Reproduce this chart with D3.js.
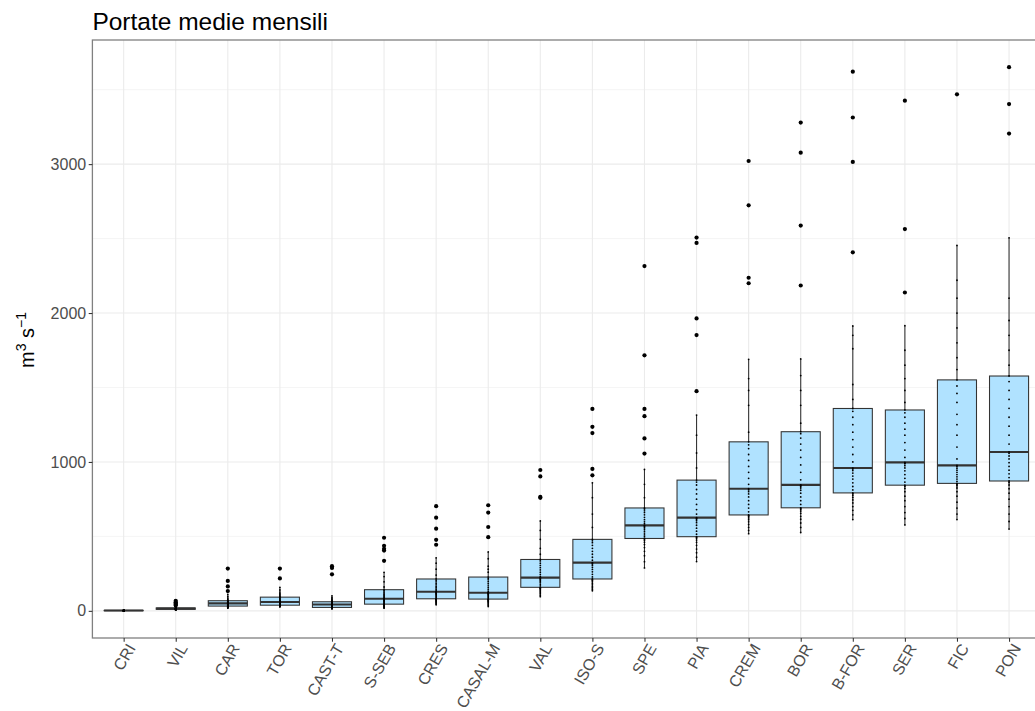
<!DOCTYPE html>
<html>
<head>
<meta charset="utf-8">
<script src="https://cdn.jsdelivr.net/npm/d3@7"></script>
<style>
  body { margin: 0; background: #ffffff; }
  svg { display: block; font-family: "Liberation Sans", Arial, sans-serif; }
</style>
</head>
<body>
<svg id="chart" width="1035" height="711"></svg>
<script>
// Monthly mean discharge (m^3/s) per gauging station
const stations = ["CRI", "VIL", "CAR", "TOR", "CAST-T", "S-SEB", "CRES", "CASAL-M", "VAL",
                  "ISO-S", "SPE", "PIA", "CREM", "BOR", "B-FOR", "SER", "FIC", "PON"];

const flowCRI = [0.2,0.4,0.5,0.6,0.8,0.9,1.0,1.1,1.1,1.2,1.3,1.4,1.5,1.6,1.7,1.8,1.9,1.9,2.0,2.1,2.2,2.3,2.4,2.5,2.6,2.7,2.9,3.0,3.1,3.3,3.5,3.7,3.9,4.2,4.6,5.1,5.5];
const flowVIL = [5,6,7,7.5,8,8.5,9,9.5,10,10.5,11,11.5,12,12.5,13,13.5,14,14.5,15,15.5,16,16.5,17,17.5,18,18.5,19,19.5,21,23,25,28,36,42,50,58,67];
const flowCAR = [18,21,23,25,26,27,28,30,31,32,34,36,38,40,42,44,46,48,50,52,54,56,58,60,62,64,66,68,72,78,86,96,110,133,164,201,284];
const flowTOR = [27,29,30,31,32,33,34,36,37,38,40,42,45,48,51,53,55,57,59,62,65,68,72,76,80,85,89,92,96,101,108,116,126,140,158,218,284];
const flowCASTT = [14,15,16,17,18,19,20,21,22,23,25,28,31,34,36,38,40,42,43,45,47,49,51,53,55,57,59,61,64,68,73,80,88,101,245,288,300];
const flowSSEB = [18,22,26,29,32,35,38,41,43,45,50,55,60,64,68,72,76,79,81,86,92,98,105,112,120,128,136,142,160,195,230,259,336,405,417,437,491];
const flowCRES = [41,48,55,60,65,70,74,77,79,81,88,95,102,108,113,118,122,125,128,135,145,155,165,175,185,195,205,214,240,280,320,356,444,477,552,626,703];
const flowCASALM = [29,38,46,54,60,65,70,74,77,79,85,92,98,104,109,113,117,120,122,130,142,155,168,182,196,208,218,227,260,280,300,350,396,495,563,660,709];
const flowVAL = [95,105,115,125,133,140,147,152,155,158,168,178,188,196,204,210,215,220,223,232,245,260,275,290,305,320,335,345,380,420,480,540,604,759,765,903,946];
const flowISOS = [135,145,155,165,175,185,195,203,209,214,228,245,262,278,292,305,314,320,324,340,360,380,400,420,440,458,470,480,560,650,760,860,910,953,1194,1236,1356];
const flowSPE = [288,330,370,400,425,445,460,472,480,486,498,510,522,535,548,558,566,571,574,585,598,612,628,645,660,672,684,691,760,850,950,1056,1158,1307,1356,1716,2315];
const flowPIA = [331,360,390,415,440,460,475,487,494,498,515,535,555,575,592,605,615,622,626,650,680,715,750,785,815,845,865,878,960,1060,1180,1315,1475,1852,1964,2471,2507];
const flowCREM = [518,540,560,580,598,612,624,634,640,644,665,690,715,740,765,785,800,812,820,850,890,930,970,1010,1050,1090,1115,1135,1200,1380,1480,1560,1689,2200,2237,2723,3021];
const flowBOR = [526,560,590,615,635,655,670,680,688,692,715,740,765,790,810,825,835,842,846,880,930,980,1030,1080,1120,1160,1190,1203,1260,1380,1480,1580,1692,2185,2587,3077,3279];
const flowBFOR = [613,645,675,700,725,745,762,776,786,792,812,835,860,885,905,925,942,952,959,1000,1050,1100,1150,1200,1250,1300,1340,1359,1420,1520,1760,1850,1913,2408,3015,3313,3621];
const flowSER = [577,620,660,700,740,770,800,822,836,844,865,890,915,940,960,975,987,993,997,1030,1080,1130,1180,1220,1260,1300,1330,1349,1400,1480,1560,1650,1750,1915,2138,2564,3426];
const flowFIC = [613,650,690,730,770,800,825,840,850,856,870,885,900,915,930,945,958,970,977,1020,1100,1180,1250,1320,1400,1460,1510,1551,1620,1700,1800,1900,2000,2100,2220,2454,3469];
const flowPON = [549,600,650,700,750,790,820,845,862,872,895,920,945,970,995,1020,1040,1058,1067,1120,1180,1240,1300,1360,1420,1480,1540,1577,1650,1750,1850,1950,2100,2505,3205,3403,3651];

const yTicks = [0, 1000, 2000, 3000];
const yMinorTicks = [500, 1500, 2500, 3500];
const chartTitle = "Portate medie mensili";

const series = [flowCRI, flowVIL, flowCAR, flowTOR, flowCASTT, flowSSEB, flowCRES, flowCASALM, flowVAL,
                flowISOS, flowSPE, flowPIA, flowCREM, flowBOR, flowBFOR, flowSER, flowFIC, flowPON];

// Tukey box statistics for each station
const boxes = stations.map((name, i) => {
  const v = series[i].slice().sort(d3.ascending);
  const q1 = d3.quantile(v, 0.25), med = d3.quantile(v, 0.5), q3 = d3.quantile(v, 0.75);
  const iqr = q3 - q1;
  const loFence = q1 - 1.5 * iqr, hiFence = q3 + 1.5 * iqr;
  const inside = v.filter(d => d >= loFence && d <= hiFence);
  return {
    name, values: v, q1, med, q3,
    lo: d3.min(inside), hi: d3.max(inside),
    outliers: v.filter(d => d < loFence || d > hiFence)
  };
});

// Panel geometry
const panel = { left: 92.4, right: 1040.3, top: 40, bottom: 638 };

const x = d3.scalePoint()
  .domain(stations)
  .range([panel.left, panel.right])
  .padding(0.6);
const step = x.step();
const boxW = step * 0.75;

const allValues = series.flat();
const [vMin, vMax] = d3.extent(allValues);
const pad = (vMax - vMin) * 0.05;
const y = d3.scaleLinear()
  .domain([vMin - pad, vMax + pad])
  .range([panel.bottom, panel.top]);

const svg = d3.select("#chart");

// Title
svg.append("text")
  .attr("x", panel.left)
  .attr("y", 30)
  .attr("font-size", 24.5)
  .attr("fill", "#000")
  .text(chartTitle);

// Y axis title: m^3 s^-1
const yTitle = svg.append("text")
  .attr("transform", "translate(34,340) rotate(-90)")
  .attr("text-anchor", "middle")
  .attr("font-size", 20)
  .attr("fill", "#000");
yTitle.append("tspan").text("m");
yTitle.append("tspan").attr("dy", -8).attr("font-size", 14).text("3");
yTitle.append("tspan").attr("dy", 8).text(" s");
yTitle.append("tspan").attr("dy", -8).attr("font-size", 14).text("\u22121");

const plot = svg.append("g");

// Grid
plot.append("g").selectAll("line").data(yMinorTicks).join("line")
  .attr("x1", panel.left).attr("x2", panel.right)
  .attr("y1", d => y(d)).attr("y2", d => y(d))
  .attr("stroke", "#F2F2F2").attr("stroke-width", 0.8);
plot.append("g").selectAll("line").data(yTicks).join("line")
  .attr("x1", panel.left).attr("x2", panel.right)
  .attr("y1", d => y(d)).attr("y2", d => y(d))
  .attr("stroke", "#EBEBEB").attr("stroke-width", 1.1);
plot.append("g").selectAll("line").data(stations).join("line")
  .attr("x1", d => x(d)).attr("x2", d => x(d))
  .attr("y1", panel.top).attr("y2", panel.bottom)
  .attr("stroke", "#EBEBEB").attr("stroke-width", 1.1);

// Boxplots
const bx = plot.append("g").selectAll("g").data(boxes).join("g")
  .attr("transform", d => `translate(${x(d.name)},0)`);

bx.append("line")
  .attr("y1", d => y(d.hi)).attr("y2", d => y(d.q3))
  .attr("stroke", "#333333").attr("stroke-width", 1.07);
bx.append("line")
  .attr("y1", d => y(d.q1)).attr("y2", d => y(d.lo))
  .attr("stroke", "#333333").attr("stroke-width", 1.07);
bx.append("rect")
  .attr("x", -boxW / 2).attr("width", boxW)
  .attr("y", d => y(d.q3))
  .attr("height", d => Math.max(0.01, y(d.q1) - y(d.q3)))
  .attr("fill", "#B0E2FF")
  .attr("stroke", "#333333").attr("stroke-width", 1.07);
bx.append("line")
  .attr("x1", -boxW / 2).attr("x2", boxW / 2)
  .attr("y1", d => y(d.med)).attr("y2", d => y(d.med))
  .attr("stroke", "#333333").attr("stroke-width", 2.1);
bx.selectAll("circle.out").data(d => d.outliers).join("circle")
  .attr("class", "out")
  .attr("cy", d => y(d)).attr("r", 2.1)
  .attr("fill", "#000");

// Individual monthly values
bx.selectAll("circle.pt").data(d => d.values).join("circle")
  .attr("class", "pt")
  .attr("cy", d => y(d)).attr("r", 0.9)
  .attr("fill", "#000");

// Panel border
svg.append("rect")
  .attr("x", panel.left).attr("y", panel.top)
  .attr("width", panel.right - panel.left).attr("height", panel.bottom - panel.top)
  .attr("fill", "none").attr("stroke", "#808080").attr("stroke-width", 1.3);

// Y axis
const yAxis = svg.append("g")
  .attr("transform", `translate(${panel.left},0)`)
  .call(d3.axisLeft(y).tickValues(yTicks).tickSize(3.7).tickPadding(2.5).tickFormat(d3.format("d")));
yAxis.select(".domain").remove();
yAxis.selectAll(".tick line").attr("stroke", "#333333").attr("stroke-width", 1.07);
yAxis.selectAll(".tick text")
  .attr("font-size", 16).attr("fill", "#4D4D4D").attr("font-family", "Liberation Sans, Arial, sans-serif");

// X axis
const xAxis = svg.append("g")
  .attr("transform", `translate(0,${panel.bottom})`)
  .call(d3.axisBottom(x).tickSize(3.7).tickPadding(2.5));
xAxis.select(".domain").remove();
xAxis.selectAll(".tick line").attr("stroke", "#333333").attr("stroke-width", 1.07);
xAxis.selectAll(".tick text")
  .attr("font-size", 16).attr("fill", "#4D4D4D").attr("font-family", "Liberation Sans, Arial, sans-serif")
  .attr("text-anchor", "end")
  .attr("dy", null)
  .attr("y", null)
  .attr("transform", "translate(12,10) rotate(-60)");
</script>
</body>
</html>
